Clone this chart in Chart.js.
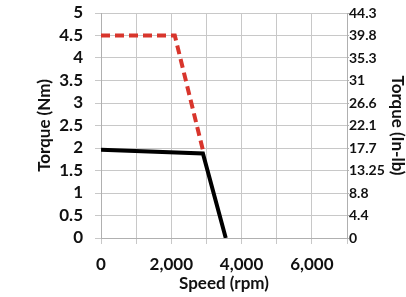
<!DOCTYPE html>
<html lang="en">
<head>
  <meta charset="UTF-8">
  <title>Torque vs Speed</title>
  <script src="https://cdn.jsdelivr.net/npm/chart.js"></script>
  <style>
    body { margin: 0; padding: 0; background: #fff; }
    .chart-container { width: 406px; height: 297px; }
  </style>
</head>
<body>
  <div class="chart-container">
    <canvas id="torqueChart"></canvas>
  </div>

  <script>
    // data
    const peakSpeed = [0, 2100, 2900];
    const peakTorque = [4.5, 4.5, 1.95];
    const contSpeed = [0, 2900, 3550];
    const contTorque = [1.96, 1.88, 0];
    const inLbLabels = ['0', '4.4', '8.8', '13.25', '17.7', '22.1', '26.6', '31', '35.3', '39.8', '44.3'];

    const toPoints = (xs, ys) => xs.map((x, i) => ({ x: x, y: ys[i] }));
    const tickFont = { family: 'Lato', size: 17, weight: 'bold' };
    const titleFont = { family: 'Lato', size: 17, weight: 'bold' };

    // drop the auto padding for end labels so the plot box sits where the picture has it
    const noEndPad = s => { s.paddingTop = 0; s.paddingBottom = 0; };

    const ctx = document.getElementById('torqueChart').getContext('2d');
    new Chart(ctx, {
      type: 'scatter',
      data: {
        datasets: [{
          label: 'Peak',
          data: toPoints(peakSpeed, peakTorque),
          showLine: true,
          borderColor: '#d8352c',
          borderWidth: 4,
          borderDash: [9, 5],
          pointRadius: 0,
          yAxisID: 'y'
        }, {
          label: 'Continuous',
          data: toPoints(contSpeed, contTorque),
          showLine: true,
          borderColor: '#000',
          borderWidth: 4,
          pointRadius: 0,
          yAxisID: 'y'
        }]
      },
      options: {
        responsive: true,
        maintainAspectRatio: false,
        animation: false,
        layout: { padding: { top: 13, left: 34, right: 0, bottom: 0 } },
        plugins: { legend: { display: false }, tooltip: { enabled: false } },
        scales: {
          x: {
            type: 'linear',
            min: 0, max: 7000,
            grid: { color: '#c8c8c8', tickLength: 6 },
            border: { color: '#b0b0b0' },
            ticks: {
              stepSize: 1000, color: '#111', font: tickFont, padding: 10, maxRotation: 0, autoSkip: false,
              callback: v => (v % 2000 === 0) ? v.toLocaleString('en-US') : ''
            },
            title: { display: true, text: 'Speed (rpm)', color: '#111', font: titleFont, padding: { top: 0, bottom: 3 } },
            afterFit: s => { s.height = 59; s.paddingLeft = 0; s.paddingRight = 0; }
          },
          y: {
            position: 'left',
            min: 0, max: 5,
            grid: { color: '#c8c8c8', tickLength: 6 },
            border: { color: '#b0b0b0' },
            ticks: { stepSize: 0.5, color: '#111', font: tickFont, padding: 12, autoSkip: false, callback: v => String(v) },
            title: { display: true, text: 'Torque (Nm)', color: '#111', font: titleFont, padding: 0 },
            afterFit: s => { s.width = 67; noEndPad(s); }
          },
          y2: {
            position: 'right',
            min: 0, max: 5,
            grid: { drawOnChartArea: false, color: '#b0b0b0', tickLength: 2 },
            border: { color: '#b0b0b0' },
            ticks: {
              stepSize: 0.5, color: '#111', font: { family: 'Lato', size: 14, weight: 'bold' }, padding: 0, autoSkip: false,
              callback: (v, i) => inLbLabels[i]
            },
            title: { display: true, text: 'Torque (In-lb)', color: '#111', font: { family: 'Lato', size: 17, weight: 'bold', lineHeight: 1 }, padding: 0 },
            afterFit: s => { s.width = 59; noEndPad(s); }
          }
        }
      }
    });
  </script>
</body>
</html>
